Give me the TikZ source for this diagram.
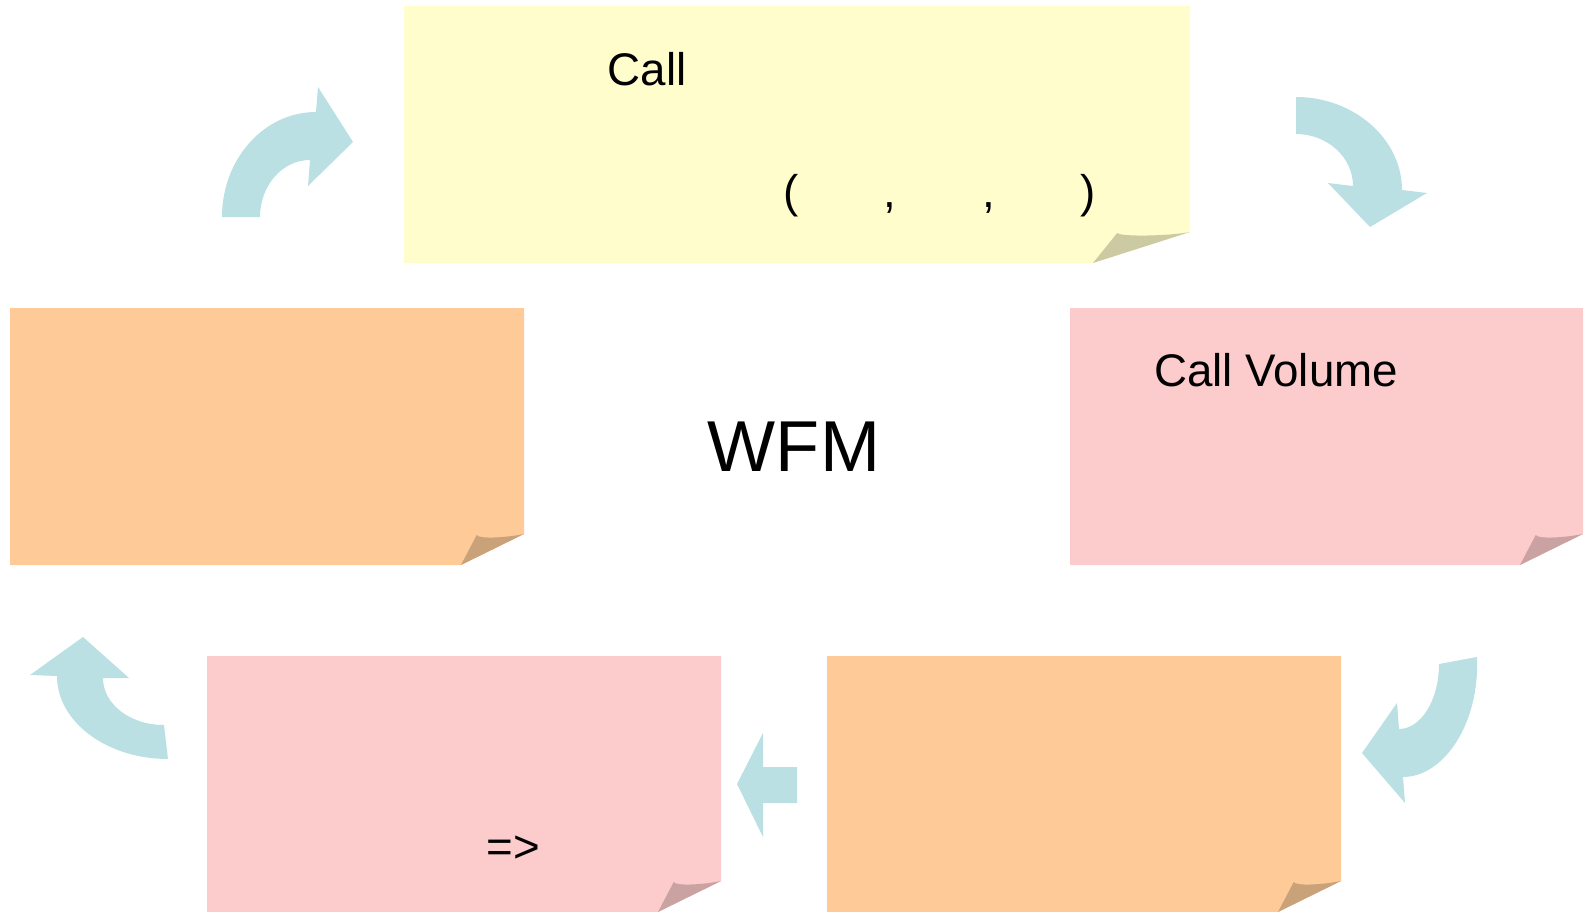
\documentclass[tikz,border=0pt]{standalone}
\usepackage{fontspec}
\setmainfont{Liberation Sans}
\usepackage{tikz}
\usetikzlibrary{arrows.meta}
\definecolor{NoteYellow}{HTML}{FFFDCC}
\definecolor{NoteOrange}{HTML}{FDCA98}
\definecolor{NotePink}{HTML}{FCCBCB}
\definecolor{ArrowTeal}{HTML}{BAE0E3}
\newcommand{\stickynote}[6]{%
  \fill[#5] (#1,#2) -- (#3,#2) -- (#3,#4-31) -- (#3-#6,#4) -- (#1,#4) -- cycle;
  \fill[#5!80!black] (#3-#6,#4) -- (#3-0.75*#6,#4-30) .. controls (#3-0.72*#6,#4-26) and (#3-20,#4-27) .. (#3,#4-31) -- cycle;
}

\begin{document}
\begin{tikzpicture}[x=0.01cm, y=-0.01cm, font=\fontsize{13}{15}\selectfont, bentarrow/.style={fill=ArrowTeal}]
\useasboundingbox (0,0) rectangle (1590,912);
\stickynote{404}{6}{1190}{263}{NoteYellow}{97}
\stickynote{10}{308}{524}{565}{NoteOrange}{63}
\stickynote{1070}{308}{1583}{565}{NotePink}{63}
\stickynote{207}{656}{721}{912}{NotePink}{63}
\stickynote{827}{656}{1341}{912}{NoteOrange}{63}
\fill[bentarrow] (222,217) .. controls (222,159) and (264,112) .. (316,112) -- (318,87) -- (353,142) -- (308,186) -- (310,160) .. controls (282,160) and (260,186) .. (260,217) -- cycle;
\fill[bentarrow] (1296,97) .. controls (1354,97) and (1402,139) .. (1402,190) -- (1427,193) -- (1370,227) -- (1328,183) -- (1353,186) .. controls (1353,157) and (1327,134) .. (1296,134) -- cycle;
\fill[bentarrow] (1477,657) .. controls (1480,723) and (1444,777) .. (1403,777) -- (1405,803) -- (1362,753) -- (1397,703) -- (1399,729) .. controls (1421,729) and (1439,700) .. (1439,664) -- cycle;
\fill[bentarrow] (83,637) -- (129,678) -- (103,678) .. controls (103,704) and (130,725) .. (164,725) -- (168,759) .. controls (107,759) and (57,722) .. (57,676) -- (30,675) -- cycle;
\fill[bentarrow] (737,784) -- (763,733) -- (763,767) -- (797,767) -- (797,803) -- (763,803) -- (763,837) -- cycle;
\node[anchor=base] (call) at (647,85) {Call};
\node[anchor=base] (args) at (939.5,207) {(\hspace{24.2pt},\hspace{24.6pt},\hspace{24.2pt})};
\node[anchor=base] (volume) at (1276,386) {Call Volume};
\node[anchor=base, font=\fontsize{20.5}{24}\selectfont] (wfm) at (794,471) {WFM};
\node[anchor=base] (implies) at (513,862) {=>};
\end{tikzpicture}
\end{document}
